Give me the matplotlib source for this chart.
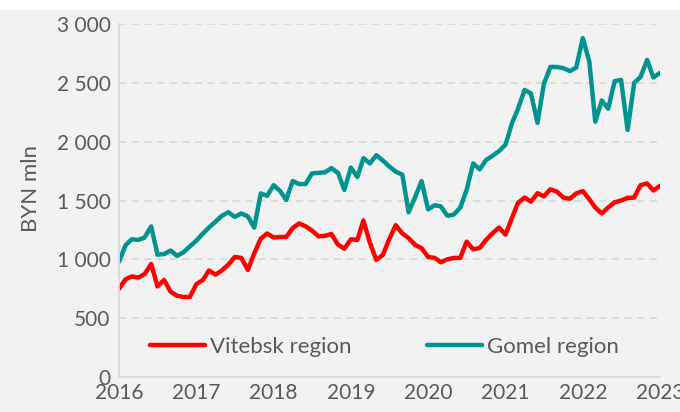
import matplotlib
matplotlib.use("Agg")
import matplotlib.pyplot as plt
import matplotlib.ticker as mticker
import matplotlib.dates as mdates
import pandas as pd
from matplotlib.patches import Rectangle

months = pd.date_range("2016-01-01", "2023-01-01", freq="MS")

vitebsk = [750, 830, 855, 845, 875, 960, 770, 825, 725, 690, 680, 680,
           790, 825, 905, 870, 905, 955, 1020, 1012, 910, 1050, 1175, 1220,
           1185, 1190, 1190, 1265, 1305, 1280, 1245, 1195, 1200, 1215, 1125, 1090,
           1170, 1165, 1330, 1140, 995, 1037, 1170, 1290, 1220, 1180, 1122, 1095,
           1020, 1012, 975, 1000, 1012, 1012, 1150, 1085, 1097, 1165, 1222, 1270,
           1210, 1355, 1480, 1525, 1490, 1562, 1535, 1595, 1575, 1525, 1515, 1560,
           1580, 1510, 1440, 1390, 1440, 1485, 1500, 1522, 1525, 1630, 1645, 1585,
           1625]
gomel = [980, 1120, 1170, 1165, 1185, 1280, 1040, 1045, 1075, 1030, 1060, 1110,
         1160, 1220, 1270, 1320, 1370, 1400, 1360, 1390, 1365, 1270, 1560, 1540,
         1630, 1580, 1505, 1665, 1640, 1640, 1730, 1735, 1740, 1775, 1735, 1590,
         1780, 1700, 1860, 1815, 1885, 1840, 1790, 1745, 1720, 1400, 1530, 1665,
         1425, 1460, 1450, 1370, 1380, 1440, 1590, 1815, 1765, 1845, 1880, 1920,
         1975, 2160, 2280, 2440, 2410, 2160, 2490, 2635, 2635, 2625, 2600, 2630,
         2880, 2680, 2170, 2350, 2280, 2515, 2525, 2100, 2500, 2550, 2695, 2545,
         2585]

years = list(range(2016, 2024))

plt.rcParams['font.family'] = ['Lato', 'DejaVu Sans']
txt = '#595959'
grid = '#d9d9d9'

fig = plt.figure(figsize=(6.8, 4.12), dpi=100, facecolor='#f2f2f2')
# white strip along the top edge
fig.patches.append(Rectangle((0, 1 - 10 / 412), 1, 10 / 412, transform=fig.transFigure,
                             facecolor='white', edgecolor='none'))
ax = fig.add_axes([119 / 680, 1 - 377 / 412, 541 / 680, 353 / 412])
ax.set_facecolor('#f2f2f2')

ax.plot(months, vitebsk, color='#ff0000', lw=3.2, label='Vitebsk region',
        solid_capstyle='round', solid_joinstyle='round')
ax.plot(months, gomel, color='#00938f', lw=3.2, label='Gomel region',
        solid_capstyle='round', solid_joinstyle='round')

ax.set_ylim(0, 3000)
ax.set_xlim(pd.Timestamp("2016-01-01"), pd.Timestamp("2023-01-01"))
ax.yaxis.set_major_locator(mticker.MultipleLocator(500))
ax.yaxis.set_major_formatter(mticker.FuncFormatter(lambda v, p: f"{int(v):,}".replace(",", " ")))
ax.set_xticks([pd.Timestamp(f"{y}-01-01") for y in years])
ax.xaxis.set_major_formatter(mdates.DateFormatter('%Y'))

ax.grid(axis='y', color=grid, linestyle=(0, (4, 3)), lw=1.3)
ax.set_axisbelow(True)
for s in ['top', 'right']:
    ax.spines[s].set_visible(False)
for s in ['left', 'bottom']:
    ax.spines[s].set_color(grid)
    ax.spines[s].set_linewidth(1.3)

ax.tick_params(axis='both', length=0, labelsize=15, colors=txt)
ax.tick_params(axis='y', pad=6)
ax.tick_params(axis='x', pad=4)
ax.set_ylabel('BYN mln', fontsize=16, color=txt)
ax.yaxis.set_label_coords(-0.145, 0.535)

ax.legend(loc='lower center', bbox_to_anchor=(0.49, 0.0), ncol=2, frameon=False,
          fontsize=16, labelcolor=txt, handlelength=2.5, handletextpad=0.2,
          columnspacing=3.4)

fig.savefig('out.png', dpi=100, facecolor=fig.get_facecolor())
